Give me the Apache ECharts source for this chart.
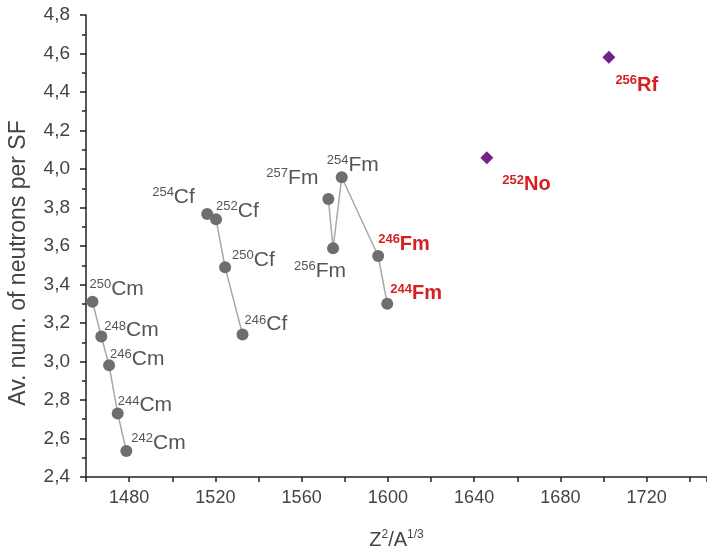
<!DOCTYPE html>
<html>
<head>
<meta charset="utf-8">
<script src="https://cdn.jsdelivr.net/npm/echarts@6/dist/echarts.min.js"></script>
<style>
html, body { margin: 0; padding: 0; background: #fff; }
#chart { width: 707px; height: 552px; }
</style>
</head>
<body>
<div id="chart"></div>
<script>
// curium chain
const cmMass = [250, 248, 246, 244, 242];
const cmX = [1463.0, 1467.1, 1470.7, 1474.7, 1478.7];
const cmY = [3.31, 3.13, 2.98, 2.73, 2.535];
// californium chain
const cfMass = [254, 252, 250, 246];
const cfX = [1516.2, 1520.3, 1524.5, 1532.6];
const cfY = [3.766, 3.739, 3.49, 3.14];
// fermium chain
const fmMass = [257, 256, 254, 246, 244];
const fmX = [1572.4, 1574.6, 1578.6, 1595.5, 1599.7];
const fmY = [3.844, 3.588, 3.957, 3.548, 3.30];
// No, Rf
const shMass = [252, 256];
const shEl = ['No', 'Rf'];
const shX = [1645.9, 1702.5];
const shY = [4.059, 4.58];

const redLabels = ['246Fm', '244Fm', '252No', '256Rf'];

// label placement: [left edge dx, centre dy] from the point, in px
const labelPos = {
    '250Cm': [-3, -13], '248Cm': [3, -6], '246Cm': [1, -6], '244Cm': [0, -8], '242Cm': [5, -8],
    '254Cf': [-55, -17], '252Cf': [0, -8], '250Cf': [7, -7], '246Cf': [2, -10],
    '257Fm': [-62, -21], '256Fm': [-39, 23], '254Fm': [-15, -12], '246Fm': [0, -12], '244Fm': [3, -10],
    '252No': [15, 27], '256Rf': [6, 28],
};

const font = 'Liberation Sans, Arial, sans-serif';
const gray = '#555';
const red = '#d42222';
const symSize = 12;

function points(xs, ys, masses, els) {
    return xs.map((x, i) => {
        const el = Array.isArray(els) ? els[i] : els;
        const key = masses[i] + el;
        const p = labelPos[key];
        const isRed = redLabels.includes(key);
        return {
            value: [x, ys[i]],
            label: {
                show: true,
                position: 'right',
                distance: 0,
                offset: [p[0] - symSize / 2, p[1]],
                formatter: isRed ? `{rs|${masses[i]}}{re|${el}}` : `{s|${masses[i]}}{e|${el}}`,
            },
        };
    });
}

const rich = {
    s: { fontFamily: font, fontSize: 13, color: gray, verticalAlign: 'top' },
    e: { fontFamily: font, fontSize: 21, color: gray, lineHeight: 22 },
    rs: { fontFamily: font, fontSize: 13, color: red, fontWeight: 'bold', verticalAlign: 'top' },
    re: { fontFamily: font, fontSize: 20, color: red, fontWeight: 'bold', lineHeight: 22 },
};

function chain(xs, ys, masses, el) {
    return {
        type: 'line',
        data: points(xs, ys, masses, el),
        symbol: 'circle',
        symbolSize: symSize,
        itemStyle: { color: '#6e6e6e' },
        lineStyle: { color: '#a8a8a8', width: 1.5 },
        label: { rich: rich },
        emphasis: { disabled: true },
        z: 3,
    };
}

const chart = echarts.init(document.getElementById('chart'));
chart.setOption({
    animation: false,
    backgroundColor: '#fff',
    grid: { left: 86, top: 15, right: 0, bottom: 75, containLabel: false, outerBoundsMode: 'none' },
    xAxis: {
        type: 'value',
        min: 1460,
        max: 1748,
        interval: 20,
        name: '{n|Z}{p|2}{n|/A}{p|1/3}',
        nameLocation: 'middle',
        nameGap: 52,
        nameTextStyle: {
            rich: {
                n: { fontFamily: font, fontSize: 20, color: '#444', lineHeight: 22 },
                p: { fontFamily: font, fontSize: 12, color: '#444', verticalAlign: 'top' },
            },
        },
        axisLine: { lineStyle: { color: '#222', width: 1.5 } },
        axisTick: { length: 5, lineStyle: { color: '#222', width: 1.5 } },
        axisLabel: {
            margin: 12,
            fontFamily: font,
            fontSize: 18,
            color: '#444',
            formatter: (v) => (v % 40 === 0 ? String(v) : ''),
        },
        splitLine: { show: false },
    },
    yAxis: {
        type: 'value',
        min: 2.4,
        max: 4.8,
        interval: 0.2,
        name: 'Av. num. of neutrons per SF',
        nameLocation: 'middle',
        nameGap: 56,
        nameTextStyle: { fontFamily: font, fontSize: 23, color: '#444', padding: [0, 34, 0, 0] },
        axisLine: { lineStyle: { color: '#222', width: 1.5 } },
        axisTick: { length: 6, lineStyle: { color: '#222', width: 1.5 } },
        minorTick: { show: true, splitNumber: 2, length: 4, lineStyle: { color: '#222', width: 1.5 } },
        axisLabel: {
            margin: 16,
            fontFamily: font,
            fontSize: 19,
            color: '#444',
            formatter: (v) => v.toFixed(1).replace('.', ','),
        },
        splitLine: { show: false },
    },
    series: [
        chain(cmX, cmY, cmMass, 'Cm'),
        chain(cfX, cfY, cfMass, 'Cf'),
        chain(fmX, fmY, fmMass, 'Fm'),
        {
            type: 'scatter',
            data: points(shX, shY, shMass, shEl),
            symbol: 'diamond',
            symbolSize: [13, 13],
            itemStyle: { color: '#74218a', opacity: 1 },
            label: { rich: rich },
            emphasis: { disabled: true },
            z: 3,
        },
    ],
});
</script>
</body>
</html>
